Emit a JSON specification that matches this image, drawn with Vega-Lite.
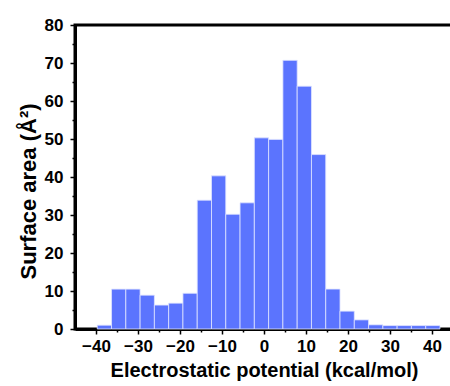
{
  "$schema": "https://vega.github.io/schema/vega-lite/v6.json",
  "width": 378,
  "height": 304,
  "autosize": {"type": "none"},
  "padding": {"left": 75, "top": 25, "right": 0, "bottom": 57},
  "background": "white",
  "config": {
    "view": {"stroke": "black", "strokeWidth": 3},
    "axis": {
      "grid": false,
      "labelOverlap": false,
      "domainColor": "black",
      "domainWidth": 3,
      "tickColor": "black",
      "tickWidth": 1.5,
      "labelFont": "Liberation Sans",
      "labelFontWeight": "bold",
      "labelFontSize": 17,
      "labelColor": "black",
      "titleFont": "Liberation Sans",
      "titleFontWeight": "bold",
      "titleColor": "black"
    }
  },
  "data": {
    "values": [
      {"x0": -39.7, "x1": -36.3, "area": 1.0},
      {"x0": -36.3, "x1": -32.9, "area": 10.5},
      {"x0": -32.9, "x1": -29.5, "area": 10.5},
      {"x0": -29.5, "x1": -26.1, "area": 8.9},
      {"x0": -26.1, "x1": -22.7, "area": 6.3},
      {"x0": -22.7, "x1": -19.3, "area": 6.8},
      {"x0": -19.3, "x1": -15.9, "area": 9.4},
      {"x0": -15.9, "x1": -12.5, "area": 33.9},
      {"x0": -12.5, "x1": -9.1, "area": 40.3},
      {"x0": -9.1, "x1": -5.7, "area": 30.2},
      {"x0": -5.7, "x1": -2.3, "area": 33.2},
      {"x0": -2.3, "x1": 1.1, "area": 50.3},
      {"x0": 1.1, "x1": 4.5, "area": 49.9},
      {"x0": 4.5, "x1": 7.9, "area": 70.7},
      {"x0": 7.9, "x1": 11.3, "area": 63.9},
      {"x0": 11.3, "x1": 14.7, "area": 45.9},
      {"x0": 14.7, "x1": 18.1, "area": 10.5},
      {"x0": 18.1, "x1": 21.5, "area": 4.7},
      {"x0": 21.5, "x1": 24.9, "area": 2.4},
      {"x0": 24.9, "x1": 28.3, "area": 1.1},
      {"x0": 28.3, "x1": 31.7, "area": 0.9},
      {"x0": 31.7, "x1": 35.1, "area": 0.9},
      {"x0": 35.1, "x1": 38.5, "area": 0.9},
      {"x0": 38.5, "x1": 41.9, "area": 0.9}
    ]
  },
  "layer": [
    {
      "mark": {"type": "bar", "color": "#5b74fe", "stroke": "#dfe5ff", "strokeWidth": 0.8},
      "encoding": {
        "x": {
          "field": "x0",
          "type": "quantitative",
          "scale": {"domain": [-45, 45], "nice": false, "zero": false},
          "axis": {
            "orient": "bottom",
            "title": "Electrostatic potential (kcal/mol)",
            "titleFontSize": 20,
            "titlePadding": 6,
            "values": [-40, -30, -20, -10, 0, 10, 20, 30, 40],
            "tickSize": 5,
            "labelPadding": 4
          }
        },
        "x2": {"field": "x1"},
        "y": {
          "field": "area",
          "type": "quantitative",
          "scale": {"domain": [0, 80], "nice": false},
          "axis": {
            "orient": "left",
            "title": "Surface area (Å²)",
            "titleFontSize": 22,
            "titlePadding": 4,
            "titleY": 166,
            "values": [0, 10, 20, 30, 40, 50, 60, 70, 80],
            "tickSize": 5,
            "labelPadding": 7
          }
        },
        "y2": {"datum": 0}
      }
    },
    {
      "mark": {"type": "bar", "opacity": 0},
      "encoding": {
        "x": {
          "field": "x0",
          "type": "quantitative",
          "axis": {
            "orient": "bottom",
            "title": null,
            "labels": false,
            "domain": false,
            "values": [-35, -25, -15, -5, 5, 15, 25, 35],
            "tickSize": 3
          }
        },
        "x2": {"field": "x1"},
        "y": {
          "field": "area",
          "type": "quantitative",
          "axis": {
            "orient": "left",
            "title": null,
            "labels": false,
            "domain": false,
            "values": [5, 15, 25, 35, 45, 55, 65, 75],
            "tickSize": 3
          }
        },
        "y2": {"datum": 0}
      }
    }
  ],
  "resolve": {"axis": {"x": "independent", "y": "independent"}}
}
